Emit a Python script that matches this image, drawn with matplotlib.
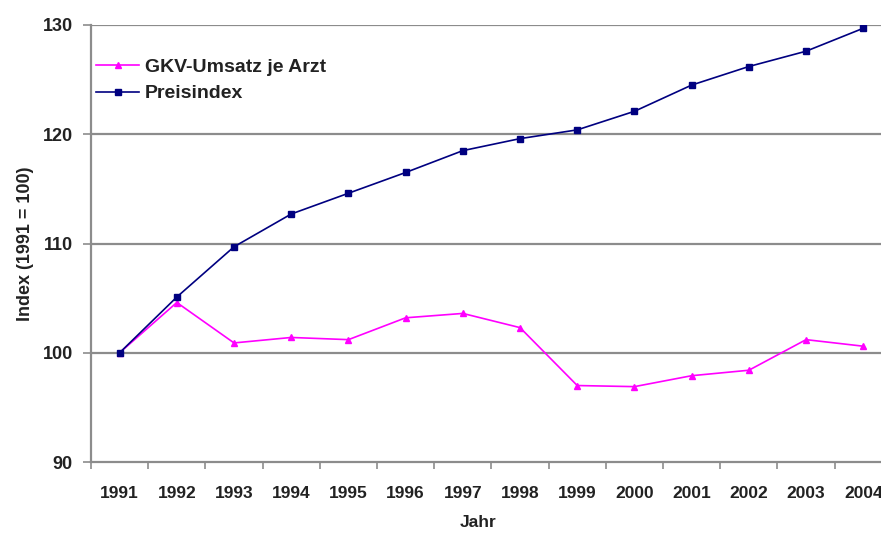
import numpy as np
import matplotlib.pyplot as plt

plt.rcParams['font.family'] = ['Liberation Sans', 'DejaVu Sans']

years = ['1991', '1992', '1993', '1994', '1995', '1996', '1997',
         '1998', '1999', '2000', '2001', '2002', '2003', '2004']
gkv_umsatz = [100.0, 104.6, 100.9, 101.4, 101.2, 103.2, 103.6,
              102.3, 97.0, 96.9, 97.9, 98.4, 101.2, 100.6]
preisindex = [100.0, 105.1, 109.7, 112.7, 114.6, 116.5, 118.5,
              119.6, 120.4, 122.1, 124.5, 126.2, 127.6, 129.7]

fig = plt.figure(figsize=(8.81, 5.34), dpi=100)
ax = fig.add_axes([0.1033, 0.1348, 0.8967, 0.8184])

x = np.arange(len(years))
grid_col = '#8c8c8c'
txt_col = '#222222'

for v in [100, 110, 120, 130]:
    ax.axhline(v, color=grid_col, lw=1.6, zorder=1)

ax.plot(x, gkv_umsatz, color='#ff00ff', lw=1.2, marker='^', ms=5,
        label='GKV-Umsatz je Arzt', zorder=3)
ax.plot(x, preisindex, color='#000080', lw=1.2, marker='s', ms=4.5,
        label='Preisindex', zorder=4)

ax.set_ylim(90, 130)
ax.set_xlim(-0.471, 13.31)
ax.set_yticks([90, 100, 110, 120, 130])
ax.set_xticks(x)
ax.set_xticklabels(years)
ax.set_xticks(np.arange(-0.5, 13.5, 1), minor=True)

for s in ['top', 'right']:
    ax.spines[s].set_visible(False)
for s in ['left', 'bottom']:
    ax.spines[s].set_color(grid_col)
    ax.spines[s].set_linewidth(1.6)

ax.tick_params(axis='y', length=6, width=1.2, color=grid_col, pad=7,
               labelsize=13)
ax.tick_params(axis='x', which='major', length=0, pad=17, labelsize=12.5)
ax.tick_params(axis='x', which='minor', length=5, width=1.2, color=grid_col)
for lab in ax.get_xticklabels() + ax.get_yticklabels():
    lab.set_fontweight('bold')
    lab.set_color(txt_col)

ax.set_ylabel('Index (1991 = 100)', fontsize=13, fontweight='bold',
              color=txt_col)
ax.yaxis.set_label_coords(-0.072, 0.5)
ax.set_xlabel('Jahr', fontsize=12.5, fontweight='bold', color=txt_col)
ax.xaxis.set_label_coords(0.49, -0.122)

leg = ax.legend(loc='upper left', bbox_to_anchor=(-0.008, 0.95), frameon=False,
                fontsize=14, handlelength=2.2, handletextpad=0.3,
                labelspacing=0.45, borderaxespad=0.2)
for t in leg.get_texts():
    t.set_fontweight('bold')
    t.set_color(txt_col)

plt.savefig('out.png', dpi=100)
